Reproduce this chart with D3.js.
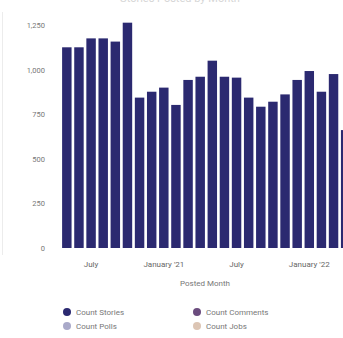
<!DOCTYPE html>
<html>
<head>
<meta charset="utf-8">
<script src="https://cdn.jsdelivr.net/npm/d3@7"></script>
<style>
  html, body { margin: 0; padding: 0; background: #fff; overflow: hidden; }
  svg { display: block; font-family: Roboto, "Noto Sans", sans-serif; }
</style>
</head>
<body>
<svg id="chart" width="343" height="338"></svg>
<script>
// Monthly story counts, May 2020 – April 2022
const months = [
  "2020-05","2020-06","2020-07","2020-08","2020-09","2020-10",
  "2020-11","2020-12","2021-01","2021-02","2021-03","2021-04",
  "2021-05","2021-06","2021-07","2021-08","2021-09","2021-10",
  "2021-11","2021-12","2022-01","2022-02","2022-03","2022-04"
];
const stories = [
  1125, 1125, 1175, 1175, 1157, 1263,
  843, 876, 899, 802, 942, 960,
  1050, 960, 955, 843, 792, 820,
  861, 942, 992, 876, 975, 661
];
const yTicks = [0, 250, 500, 750, 1000, 1250];
const xTickMonths = ["2020-07", "2021-01", "2021-07", "2022-01"];
const xTickLabels = ["July", "January '21", "July", "January '22"];
const legendNames = ["Count Stories", "Count Comments", "Count Polls", "Count Jobs"];
const legendColors = ["#2b2970", "#6b4c7e", "#a9a9c9", "#dcc5b4"];

const svg = d3.select("#chart");

const x = d3.scaleBand()
  .domain(months)
  .range([61.5, 351])
  .paddingInner(0.22)
  .paddingOuter(0.05);

const y = d3.scaleLinear()
  .domain([0, 1250])
  .range([248, 25]);

// faint title at the very top
svg.append("text")
  .attr("x", 180).attr("y", 2)
  .attr("text-anchor", "middle")
  .attr("font-size", 11)
  .attr("fill", "#d6d6d6")
  .text("Stories Posted by Month");

// left card edge
svg.append("line")
  .attr("x1", 2.5).attr("x2", 2.5)
  .attr("y1", 12).attr("y2", 255)
  .attr("stroke", "#ececec");

// bars
svg.append("g")
  .selectAll("rect")
  .data(months)
  .join("rect")
  .attr("x", d => x(d))
  .attr("width", x.bandwidth())
  .attr("y", (d, i) => y(stories[i]))
  .attr("height", (d, i) => y(0) - y(stories[i]))
  .attr("fill", legendColors[0]);

// y axis
const yAxis = d3.axisLeft(y)
  .tickValues(yTicks)
  .tickFormat(d3.format(","))
  .tickSize(0)
  .tickPadding(0);
const gy = svg.append("g").attr("transform", "translate(45,0)").call(yAxis);
gy.select(".domain").remove();
gy.selectAll("text")
  .attr("font-size", 7.5)
  .attr("fill", "#777")
  .attr("font-family", "Roboto, sans-serif");

// x axis
const tickMap = new Map(xTickMonths.map((m, i) => [m, xTickLabels[i]]));
const xAxis = d3.axisBottom(x)
  .tickValues(xTickMonths)
  .tickFormat(d => tickMap.get(d))
  .tickSize(0)
  .tickPadding(13);
const gx = svg.append("g").attr("transform", "translate(0,248)").call(xAxis);
gx.select(".domain").remove();
gx.selectAll("text")
  .attr("font-size", 8)
  .attr("fill", "#666")
  .attr("font-family", "Roboto, sans-serif");

// x axis title
svg.append("text")
  .attr("x", 205).attr("y", 286)
  .attr("text-anchor", "middle")
  .attr("font-size", 8)
  .attr("fill", "#777")
  .text("Posted Month");

// legend (2 x 2)
const legend = svg.append("g");
legendNames.forEach((name, i) => {
  const col = i % 2, row = Math.floor(i / 2);
  const lx = 67 + col * 130, ly = 312 + row * 14;
  legend.append("circle")
    .attr("cx", lx).attr("cy", ly).attr("r", 4)
    .attr("fill", legendColors[i]);
  legend.append("text")
    .attr("x", lx + 9).attr("y", ly + 3)
    .attr("font-size", 8)
    .attr("fill", "#777")
    .text(name);
});
</script>
</body>
</html>
